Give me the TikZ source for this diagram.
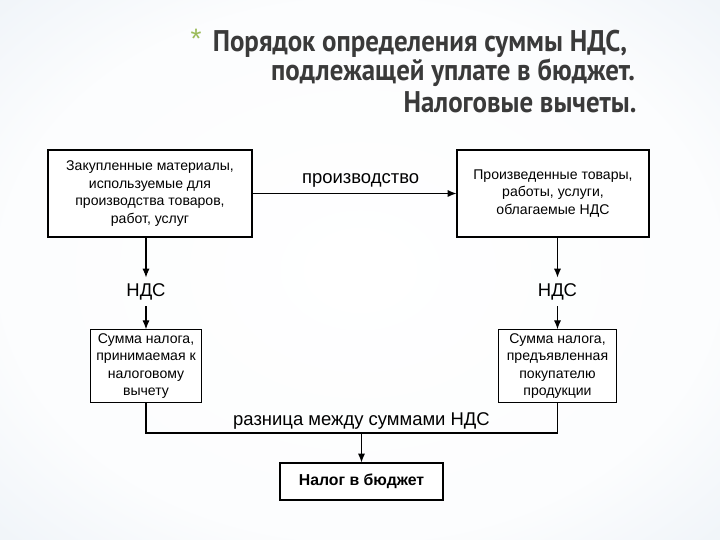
\documentclass[tikz,border=0pt]{standalone}
\usepackage{fontspec}
\setmainfont{Liberation Sans}
\newfontfamily\titlefont[FakeStretch=0.9]{PT Sans}
\usetikzlibrary{arrows.meta,positioning}
\definecolor{titlegray}{HTML}{3A3A3A}
\definecolor{stargreen}{HTML}{9BBB59}
\definecolor{bgedge}{HTML}{B0C7DE}
\pgfdeclareradialshading{bgglow}{\pgfpoint{0cm}{0cm}}{color(0bp)=(white);
  color(25bp)=(white!96!bgedge); color(40bp)=(white!75!bgedge);
  color(52bp)=(white!40!bgedge); color(72bp)=(bgedge)}

\begin{document}
\begin{tikzpicture}[
    txtbox/.style={draw,fill=white,line width=0.6pt,align=center,inner sep=2pt,
      font=\fontsize{8}{10}\selectfont},
    arr/.style={-{Latex[length=5pt,width=4pt]},line width=0.6pt},
    lbl/.style={font=\fontsize{10.5}{12}\selectfont},
    ttl/.style={titlegray,inner sep=0pt,font=\titlefont\bfseries\fontsize{17}{17}\selectfont}]
    \shade[shading=bgglow] (0,0) rectangle (14.4,10.8);
    \useasboundingbox (0,0) rectangle (14.4,10.8);
    % title
    \node[stargreen,font=\fontsize{16}{16}\selectfont] (star) at (3.92,10.02) {*};
    \node[ttl] (t1) at (8.4,9.93) {Порядок определения суммы НДС,};
    \node[ttl] (t2) at (9.06,9.34) {подлежащей уплате в бюджет.};
    \node[ttl] (t3) at (10.4,8.76) {Налоговые вычеты.};
    % boxes
    \node[txtbox,minimum width=4.08cm,minimum height=1.74cm] (bought) at (3.0,6.93)
      {Закупленные материалы,\\используемые для\\производства товаров,\\работ, услуг};
    \node[txtbox,minimum width=3.84cm,minimum height=1.74cm] (made) at (11.06,6.93)
      {Произведенные товары,\\работы, услуги,\\облагаемые НДС};
    \node[lbl] (vatL) at (2.92,4.96) {НДС};
    \node[lbl] (vatR) at (11.15,4.96) {НДС};
    \node[txtbox,minimum width=2.22cm,minimum height=1.36cm] (deduct) at (2.92,3.48)
      {Сумма налога,\\принимаемая к\\налоговому\\вычету};
    \node[txtbox,minimum width=2.36cm,minimum height=1.36cm] (charged) at (11.15,3.48)
      {Сумма налога,\\предъявленная\\покупателю\\продукции};
    \coordinate (join) at (7.23,2.14);
    \node[lbl,above=-1.5pt of join] (diff) {разница между суммами НДС};
    \node[txtbox,font=\bfseries\fontsize{9}{11}\selectfont,minimum width=3.26cm,
      minimum height=0.74cm] (budget) at (7.23,1.17) {Налог в бюджет};
    % connectors
    \draw[arr] (bought.east) -- node[lbl,above,pos=0.53] (prod) {производство} (made.west);
    \draw[arr] (bought.south -| vatL) -- (vatL);
    \draw[arr] (vatL) -- (deduct);
    \draw[arr] (made.south -| vatR) -- (vatR);
    \draw[arr] (vatR) -- (charged);
    \draw[line width=0.6pt] (deduct.south) |- (join) -| (charged.south);
    \draw[arr] (join) -- (budget);
\end{tikzpicture}
\end{document}
